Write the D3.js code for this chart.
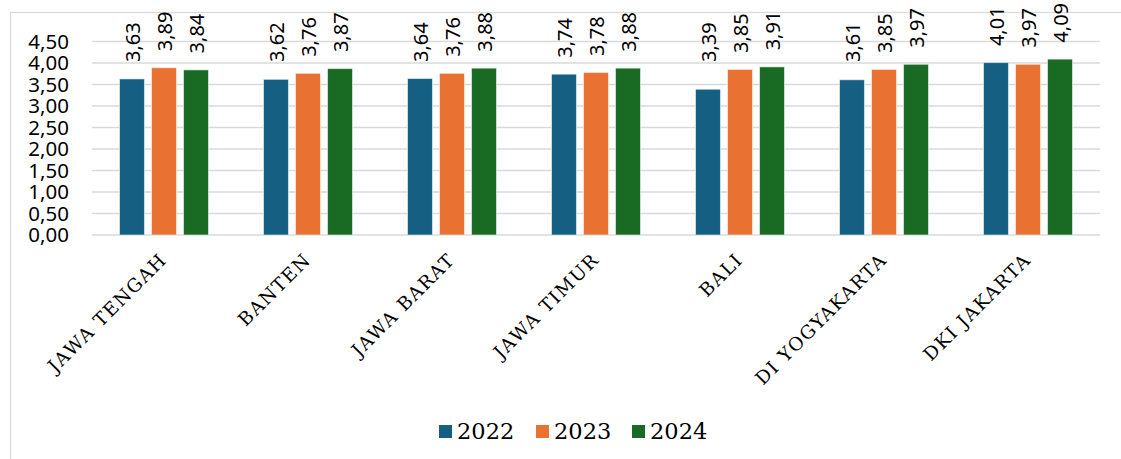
<!DOCTYPE html>
<html>
<head>
<meta charset="utf-8">
<script src="https://cdn.jsdelivr.net/npm/d3@7"></script>
<style>
  html, body { margin: 0; padding: 0; background: #fff; }
  svg { display: block; }
</style>
</head>
<body>
<svg id="chart" width="1121" height="459"></svg>
<script>
const categories = ["JAWA TENGAH", "BANTEN", "JAWA BARAT", "JAWA TIMUR", "BALI", "DI YOGYAKARTA", "DKI JAKARTA"];
const seriesNames = ["2022", "2023", "2024"];
const values2022 = [3.63, 3.62, 3.64, 3.74, 3.39, 3.61, 4.01];
const values2023 = [3.89, 3.76, 3.76, 3.78, 3.85, 3.85, 3.97];
const values2024 = [3.84, 3.87, 3.88, 3.88, 3.91, 3.97, 4.09];
const yTicks = [0, 0.5, 1, 1.5, 2, 2.5, 3, 3.5, 4, 4.5];
const colors = ["#156082", "#E97132", "#196B24"];

const seriesValues = [values2022, values2023, values2024];
const svg = d3.select("#chart");
const W = 1121, H = 459;
const plot = { left: 92, right: 1100, top: 41.5, bottom: 235 };

const locale = d3.formatLocale({ decimal: ",", thousands: ".", grouping: [3], currency: ["", ""] });
const fmt = locale.format(".2f");

// outer border
svg.append("rect")
  .attr("x", 10.5).attr("y", 12.5)
  .attr("width", W).attr("height", H)
  .attr("fill", "none").attr("stroke", "#d9d9d9").attr("stroke-width", 1.2);

const x0 = d3.scaleBand().domain(categories).range([plot.left, plot.right])
  .paddingInner(0.382).paddingOuter(0.191);
const x1 = d3.scaleBand().domain(seriesNames).range([0, x0.bandwidth()])
  .paddingInner(0.22).paddingOuter(0);
const y = d3.scaleLinear().domain([0, 4.5]).range([plot.bottom, plot.top]);

// gridlines
svg.append("g").selectAll("line").data(yTicks).join("line")
  .attr("x1", plot.left).attr("x2", plot.right)
  .attr("y1", d => y(d)).attr("y2", d => y(d))
  .attr("stroke", "#d9d9d9").attr("stroke-width", 1.5);

// y axis labels
const yAxis = d3.axisLeft(y).tickValues(yTicks).tickFormat(fmt).tickSize(0).tickPadding(0);
const gy = svg.append("g").attr("transform", "translate(69,0)").call(yAxis);
gy.select(".domain").remove();
gy.selectAll("text")
  .attr("font-family", "'Noto Sans', 'Open Sans', sans-serif")
  .attr("font-size", 20.5).attr("fill", "#000");

// bars
const groups = svg.append("g").selectAll("g").data(categories).join("g")
  .attr("transform", d => `translate(${x0(d)},0)`);

groups.selectAll("rect")
  .data((c, i) => seriesNames.map((s, k) => ({ s, k, v: seriesValues[k][i] })))
  .join("rect")
  .attr("x", d => x1(d.s))
  .attr("width", x1.bandwidth())
  .attr("y", d => y(d.v))
  .attr("height", d => y(0) - y(d.v))
  .attr("fill", d => colors[d.k])
  .attr("stroke", "rgba(255,255,255,0.55)").attr("stroke-width", 1);

// value labels
groups.selectAll("text.val")
  .data((c, i) => seriesNames.map((s, k) => ({ s, k, v: seriesValues[k][i] })))
  .join("text").attr("class", "val")
  .attr("transform", d => {
    const cx = x1(d.s) + x1.bandwidth() / 2 + 8;
    const yy = Math.min(y(d.v) - 16.5, 62);
    return `translate(${cx},${yy}) rotate(-90)`;
  })
  .attr("text-anchor", "start")
  .attr("font-family", "'Noto Sans', 'Open Sans', sans-serif")
  .attr("font-size", 20).attr("fill", "#000")
  .text(d => fmt(d.v));

// category labels
svg.append("g").selectAll("text").data(categories).join("text")
  .attr("transform", d => `translate(${x0(d) + x0.bandwidth() / 2 + 4},261) rotate(-45)`)
  .attr("text-anchor", "end")
  .attr("font-family", "'DejaVu Serif', 'Liberation Serif', serif")
  .attr("font-size", 18.5).attr("letter-spacing", 1.4)
  .attr("fill", "#000")
  .text(d => d);

// legend
const legend = svg.append("g").attr("transform", "translate(439,0)");
const itemX = [0, 97, 193];
const li = legend.selectAll("g").data(seriesNames).join("g")
  .attr("transform", (d, i) => `translate(${itemX[i]},0)`);
li.append("rect").attr("x", 0).attr("y", 425).attr("width", 13).attr("height", 13)
  .attr("fill", (d, i) => colors[i]);
li.append("text").attr("x", 18).attr("y", 439)
  .attr("font-family", "'DejaVu Serif', 'Liberation Serif', serif")
  .attr("font-size", 22.5).attr("fill", "#000")
  .text(d => d);
</script>
</body>
</html>
